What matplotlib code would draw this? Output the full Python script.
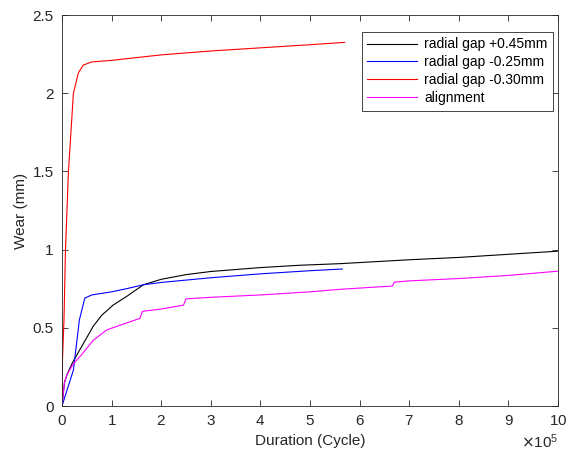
import numpy as np
import matplotlib.pyplot as plt
from matplotlib.ticker import ScalarFormatter

plt.rcParams['font.family'] = ['Liberation Sans', 'DejaVu Sans']

# Duration in cycles (x 1e5) and wear in mm
black_x = [0, 0.05, 0.1, 0.2, 0.36, 0.63, 0.8, 1.03, 1.3, 1.64, 2.0, 2.5, 3.0, 4.0, 4.8, 5.6, 7.0, 8.0, 9.0, 10.0]
black_y = [0, 0.15, 0.2, 0.27, 0.36, 0.51, 0.58, 0.645, 0.7, 0.775, 0.81, 0.84, 0.86, 0.885, 0.90, 0.91, 0.935, 0.95, 0.97, 0.99]

blue_x = [0, 0.1, 0.23, 0.35, 0.46, 0.6, 1.0, 1.3, 1.64, 2.0, 3.0, 4.0, 5.0, 5.65]
blue_y = [0, 0.1, 0.23, 0.55, 0.69, 0.71, 0.73, 0.75, 0.775, 0.79, 0.82, 0.845, 0.865, 0.876]

red_x = [0, 0.01, 0.04, 0.07, 0.13, 0.23, 0.33, 0.43, 0.6, 1.0, 2.0, 3.0, 4.0, 5.0, 5.7]
red_y = [0, 0.3, 0.55, 1.0, 1.5, 2.0, 2.13, 2.18, 2.2, 2.21, 2.245, 2.27, 2.29, 2.31, 2.325]

mag_x = [0, 0.05, 0.1, 0.23, 0.4, 0.63, 0.9, 1.2, 1.57, 1.62, 2.0, 2.45, 2.5, 3.0, 4.0, 5.0, 5.6, 6.66, 6.7, 7.0, 8.0, 9.0, 10.0]
mag_y = [0, 0.15, 0.2, 0.27, 0.33, 0.42, 0.486, 0.52, 0.56, 0.605, 0.62, 0.645, 0.685, 0.695, 0.71, 0.73, 0.746, 0.767, 0.792, 0.8, 0.815, 0.835, 0.862]

scale = 1e5

fig = plt.figure(figsize=(5.68, 4.55), dpi=100)
ax = fig.add_axes([62 / 568, 1 - 406 / 455, 496 / 568, 391 / 455])

ax.plot(np.array(black_x) * scale, black_y, color='black', lw=0.8, label='radial gap +0.45mm')
ax.plot(np.array(blue_x) * scale, blue_y, color='blue', lw=0.8, label='radial gap -0.25mm')
ax.plot(np.array(red_x) * scale, red_y, color='red', lw=0.8, label='radial gap -0.30mm')
ax.plot(np.array(mag_x) * scale, mag_y, color='magenta', lw=0.8, label='alignment')

ax.set_xlim(0, 10 * scale)
ax.set_ylim(0, 2.5)
ax.set_xticks(np.arange(0, 11) * scale)
ax.set_yticks(np.arange(0, 2.6, 0.5))
ax.set_yticklabels(['0', '0.5', '1', '1.5', '2', '2.5'])

# fixed x10^5 multiplier like the original
fmt = ScalarFormatter(useMathText=True)
fmt.set_powerlimits((5, 5))
ax.xaxis.set_major_formatter(fmt)
ax.xaxis.get_offset_text().set_fontsize(11)

ax.set_xlabel('Duration (Cycle)', fontsize=11, color='#262626', labelpad=4)
ax.set_ylabel('Wear (mm)', fontsize=11, color='#262626', labelpad=3)

ax.tick_params(direction='in', top=True, right=True, labelsize=11, colors='#262626', length=4, width=0.6)
ax.tick_params(axis='y', pad=6)
ax.tick_params(axis='x', pad=6)
for s in ax.spines.values():
    s.set_color('#262626')
    s.set_linewidth(0.6)

leg = ax.legend(loc='upper right', bbox_to_anchor=(0.99, 0.957), borderaxespad=0,
                handlelength=3.6, fontsize=10, fancybox=False, framealpha=1, edgecolor='#262626',
                borderpad=0.4, labelspacing=0.28, handletextpad=0.5)
leg.get_frame().set_linewidth(0.6)

fig.savefig('out.png', dpi=100)
